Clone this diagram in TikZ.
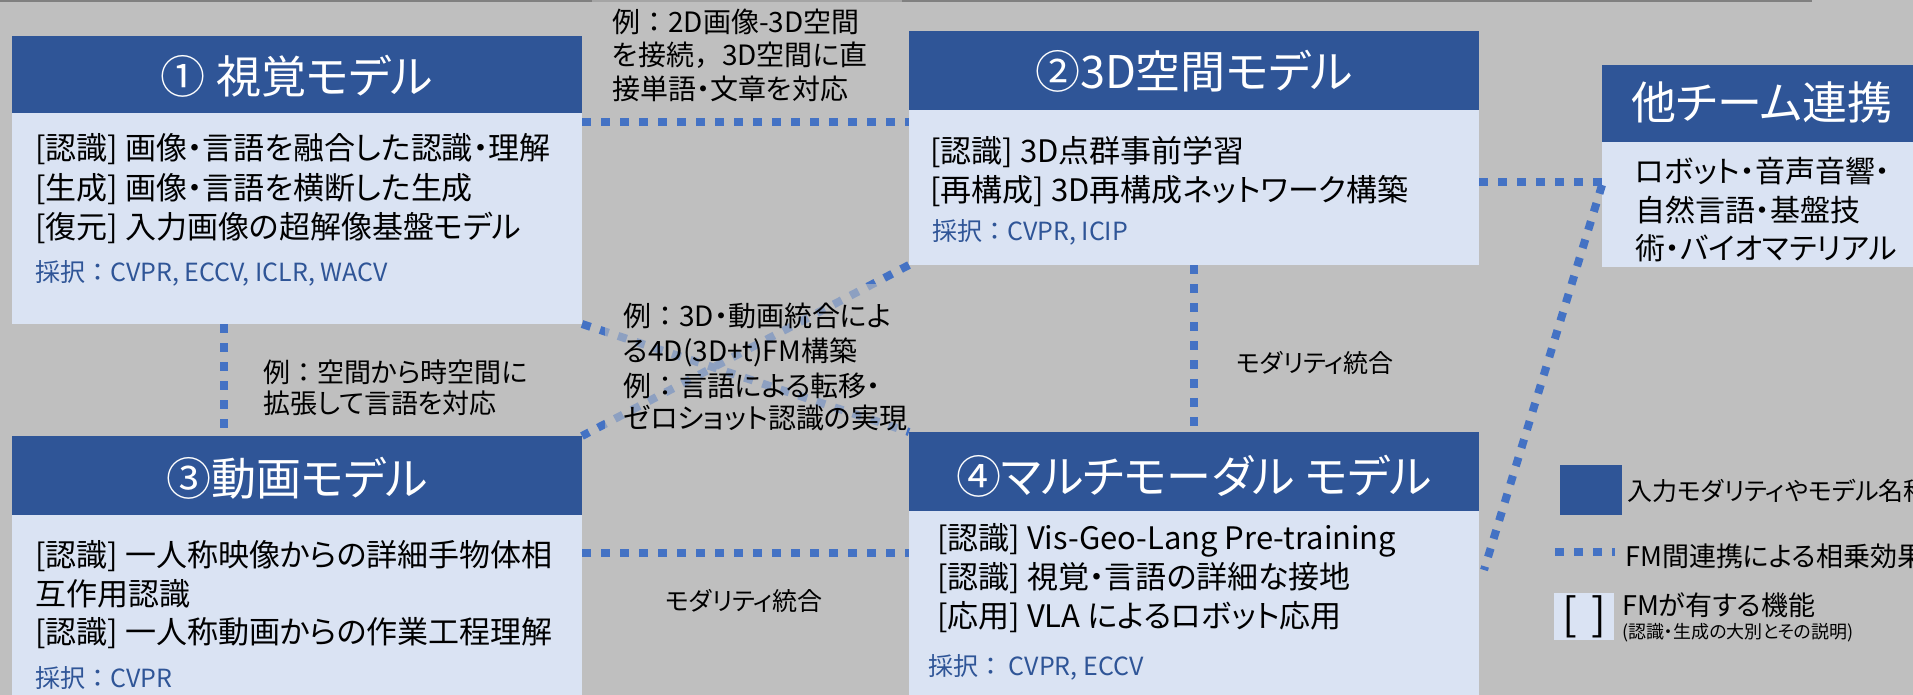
\documentclass[tikz,border=0pt]{standalone}
\usepackage{fontspec}
\setmainfont{Noto Sans CJK JP}[RawFeature=+palt]
\newfontfamily\jpfw{Noto Sans CJK JP}
\newcommand\fwc{{\jpfw ：}}
\newcommand\fwcomma{{\jpfw ，}}
\usetikzlibrary{calc}
\definecolor{bgray}{HTML}{BFBFBF}
\definecolor{hblue}{HTML}{2F5597}
\definecolor{lblue}{HTML}{DAE3F3}
\definecolor{dblue}{HTML}{4472C4}
\definecolor{tgray}{HTML}{808080}
\definecolor{ablue}{HTML}{2F5597}
\begin{document}
\begin{tikzpicture}[x=1pt,y=-1pt,
  hdrbox/.style={fill=hblue, inner sep=0pt, outer sep=0pt, anchor=north west, minimum width=570pt},
  bodybox/.style={fill=lblue, inner sep=0pt, outer sep=0pt, anchor=north west, minimum width=570pt},
  ttl/.style={anchor=base, inner sep=0pt, text=white, font=\fontsize{45}{54}\selectfont},
  btxt/.style={anchor=base west, inner sep=0pt, text=black, font=\fontsize{31}{37}\selectfont},
  otxt/.style={anchor=base west, inner sep=0pt, text=black, font=\fontsize{30}{36}\selectfont},
  acc/.style={anchor=base west, inner sep=0pt, text=ablue, font=\fontsize{25}{30}\selectfont},
  lbl/.style={anchor=base west, inner sep=0pt, text=black, font=\fontsize{28}{34}\selectfont},
  lbls/.style={anchor=base west, inner sep=0pt, text=black, font=\fontsize{27}{32}\selectfont},
  mod/.style={inner sep=0pt, text=black, font=\fontsize{25}{30}\selectfont},
  lgtxt/.style={anchor=base west, inner sep=0pt, text=black, font=\fontsize{27}{32}\selectfont},
  lblbg/.style={fill=bgray, fill opacity=0.6, inner sep=0pt, outer sep=0pt, anchor=north west},
  fmlink/.style={draw=dblue, line width=8pt, dash pattern=on 9pt off 10pt},
]
\fill[bgray] (0,0) rectangle (1913,695);
\useasboundingbox (0,0) rectangle (1913,695);
\draw[tgray, line width=2.5pt] (0,1) -- (1812,1);

% boxes
\node[hdrbox, minimum height=77pt] (h1) at (12,36) {};
\node[bodybox, minimum height=211pt] (b1) at (12,113) {};
\node[hdrbox, minimum height=79pt] (h2) at (909,31) {};
\node[bodybox, minimum height=155pt] (b2) at (909,110) {};
\node[hdrbox, minimum height=79pt] (h3) at (12,436) {};
\node[bodybox, minimum height=264pt] (b3) at (12,515) {};
\node[hdrbox, minimum height=79pt] (h4) at (909,432) {};
\node[bodybox, minimum height=264pt] (b4) at (909,511) {};
\node[hdrbox, minimum width=320pt, minimum height=77pt] (ho) at (1602,65) {};
\node[bodybox, minimum width=320pt, minimum height=125pt] (bo) at (1602,142) {};

% connectors
\draw[fmlink] (b1.east |- 0,122) -- (b2.west |- 0,122);
\draw[fmlink] (b1.south -| 224,0) -- (h3.north -| 224,0);
\draw[fmlink] (b2.south) -- (h4.north);
\draw[fmlink] (b3.east |- 0,553) -- (b4.west |- 0,553);
\draw[fmlink] (b1.south east) -- (h4.north west);
\draw[fmlink] (b2.south west) -- (h3.north east);
\draw[fmlink] (b2.east |- 0,182) -- (bo.west |- 0,182);
\draw[fmlink] (bo.west |- 0,185) -- ($(b4.east |- 0,570)+(5,0)$);

% label backgrounds
\node[lblbg, minimum width=310pt, minimum height=115pt] (l1bg) at (592,-5) {};
\node[lblbg, minimum width=300pt, minimum height=156pt] (l2bg) at (605,284) {};

% titles
\node[ttl] (t1) at (297,94) {① 視覚モデル};
\node[ttl] (t2) at (1194,89) {②3D空間モデル};
\node[ttl] (t3) at (297,495) {③動画モデル};
\node[ttl] (t4) at (1194,493) {④マルチモーダル モデル};
\node[ttl] (to) at (1762,120) {他チーム連携};

% box 1
\node[btxt] (b1a) at (35,160) {[認識] 画像・言語を融合した認識・理解};
\node[btxt] (b1b) at (35,200) {[生成] 画像・言語を横断した生成};
\node[btxt] (b1c) at (35,238) {[復元] 入力画像の超解像基盤モデル};
\node[acc] (b1d) at (35,281) {採択\fwc CVPR, ECCV, ICLR, WACV};
% box 2
\node[btxt] (b2a) at (930,163) {[認識] 3D点群事前学習};
\node[btxt] (b2b) at (930,201) {[再構成] 3D再構成ネットワーク構築};
\node[acc] (b2d) at (932,240) {採択\fwc CVPR, ICIP};
% box 3
\node[btxt] (b3a) at (35,566) {[認識] 一人称映像からの詳細手物体相};
\node[btxt] (b3b) at (35,605) {互作用認識};
\node[btxt] (b3c) at (35,643) {[認識] 一人称動画からの作業工程理解};
\node[acc] (b3d) at (35,687) {採択\fwc CVPR};
% box 4
\node[btxt] (b4a) at (937,549) {[認識] Vis-Geo-Lang Pre-training};
\node[btxt] (b4b) at (937,588) {[認識] 視覚・言語の詳細な接地};
\node[btxt] (b4c) at (937,627) {[応用] VLA によるロボット応用};
\node[acc] (b4d) at (928,675) {採択\fwc{} CVPR, ECCV};
% other teams
\node[otxt] (boa) at (1635,183) {ロボット・音声音響・};
\node[otxt] (bob) at (1635,221) {自然言語・基盤技};
\node[otxt] (boc) at (1635,259) {術・バイオマテリアル};

% labels
\node[lbl] (l1a) at (612,33) {例\fwc 2D画像-3D空間};
\node[lbl] (l1b) at (612,66) {を接続\fwcomma 3D空間に直};
\node[lbl] (l1c) at (612,100) {接単語・文章を対応};
\node[lbl] (l2a) at (623,326) {例\fwc 3D・動画統合によ};
\node[lbl] (l2b) at (623,361) {る4D(3D+t)FM構築};
\node[lbl] (l2c) at (623,396) {例\fwc 言語による転移・};
\node[lbl] (l2d) at (623,428) {ゼロショット認識の実現};
\node[lbls] (l3a) at (263,382) {例\fwc 空間から時空間に};
\node[lbls] (l3b) at (263,413) {拡張して言語を対応};
\node[mod, anchor=base west] (m1) at (1236,372) {モダリティ統合};
\node[mod, anchor=base] (m2) at (744,610) {モダリティ統合};

% legend
\node[fill=hblue, inner sep=0pt, outer sep=0pt, anchor=north west, minimum width=62pt, minimum height=50pt] (lgm) at (1560,465) {};
\node[lgtxt, font=\fontsize{25}{30}\selectfont] (lgmt) at (1627,500) {入力モダリティやモデル名称};
\coordinate (lgl1) at (1555,552);
\coordinate (lgl2) at (1615,552);
\draw[fmlink] (lgl1) -- (lgl2);
\node[lgtxt] (lglt) at (1625,566) {FM間連携による相乗効果};
\node[fill=lblue, inner sep=0pt, outer sep=0pt, anchor=north west, minimum width=60pt, minimum height=47pt] (lgb) at (1554,593) {};
\node[inner sep=0pt, font=\fontsize{44}{52}\selectfont] (lgbt) at (lgb.center) {[\hspace{14pt}]};
\node[lgtxt] (lgft) at (1622,615) {FMが有する機能};
\node[anchor=base west, inner sep=0pt, font=\fontsize{18}{22}\selectfont] (lgst) at (1622,638) {(認識・生成の大別とその説明)};
\end{tikzpicture}
\end{document}
